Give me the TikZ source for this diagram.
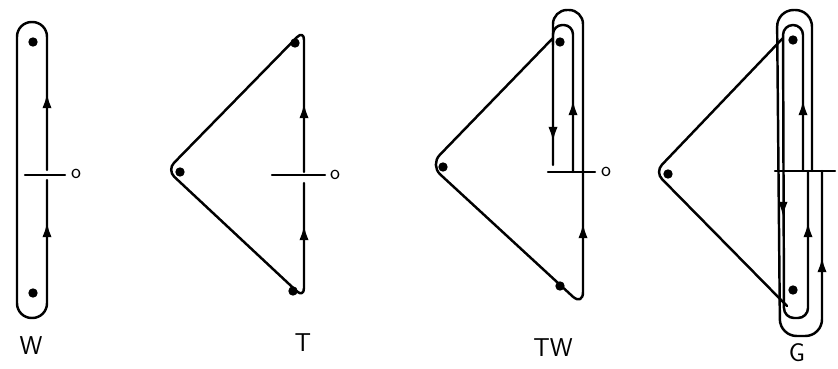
\documentclass[tikz,border=0pt]{standalone}
\usetikzlibrary{arrows.meta}
\tikzset{
  wire/.style={line width=2.1pt, line cap=round, line join=round},
  tip/.style={wire, -{Latex[length=13pt,width=8pt]}},
  site/.style={circle, fill=black, inner sep=0pt, minimum size=8pt},
  tag/.style={font=\sffamily\fontsize{22}{22}\selectfont},
  zero/.style={font=\sffamily\fontsize{18}{18}\selectfont},
}
\begin{document}
\begin{tikzpicture}[x=0.03cm, y=-0.03cm]
	\useasboundingbox (0,0) rectangle (838,369);
	% W
	\node[site] (w1) at (33,42) {};
	\node[site] (w2) at (33,293) {};
	\draw[wire, rounded corners=0.44cm] (47,170) -- (47,22) -- (17,22) -- (17,318) -- (47,318) -- (47,180);
	\draw[wire] (25,175) -- (65,175);
	\node[zero] (w0) at (76,174) {o};
	\node[tag] (wl) at (31,346) {W};
	% T
	\node[site] (t1) at (180,172) {};
	\node[site] (t2) at (295,43) {};
	\node[site] (t3) at (293,291) {};
	\draw[wire, rounded corners=0.3cm] (304,172) -- (304,30) -- (167,170) -- (304,298) -- (304,183);
	\draw[wire] (272,175) -- (325,175);
	\node[zero] (t0) at (335,175) {o};
	\node[tag] (tl) at (303,343) {T};
	% TW
	\node[site] (u1) at (443,167) {};
	\node[site] (u2) at (560,42) {};
	\node[site] (u3) at (560,286) {};
	\draw[wire, rounded corners=0.42cm] (553,165) -- (553,10) -- (583,10) -- (583,306) -- (430,165) -- (553,38);
	\draw[wire, rounded corners=0.28cm] (553,45) -- (553,25) -- (573,25) -- (573,172);
	\draw[wire] (548,172) -- (595,172);
	\node[zero] (u0) at (606,172) {o};
	\node[tag] (ul) at (553,348) {TW};
	% G
	\node[site] (g1) at (668,174) {};
	\node[site] (g2) at (793,40) {};
	\node[site] (g3) at (793,290) {};
	\draw[wire, rounded corners=0.3cm] (783,38) -- (655,172) -- (787,306);
	\draw[wire, rounded corners=0.5cm] (812,171) -- (812,10) -- (777,10) -- (780,336) -- (822,336) -- (822,171);
	\draw[wire, rounded corners=0.3cm] (803,171) -- (803,25) -- (783,25) -- (784,318) -- (808,318) -- (808,171);
	\draw[wire] (775,171) -- (835,171);
	\node[tag] (gl) at (797,353) {G};
	% arrows
	\foreach \x/\y in {47/93, 47/222, 304/103, 304/225, 573/100, 583/223, 803/100, 808/222, 822/257}
		\draw[tip] (\x,\y+14) -- (\x,\y);
	\foreach \x/\y in {553/142, 783/217}
		\draw[tip] (\x,\y-14) -- (\x,\y);
\end{tikzpicture}
\end{document}
